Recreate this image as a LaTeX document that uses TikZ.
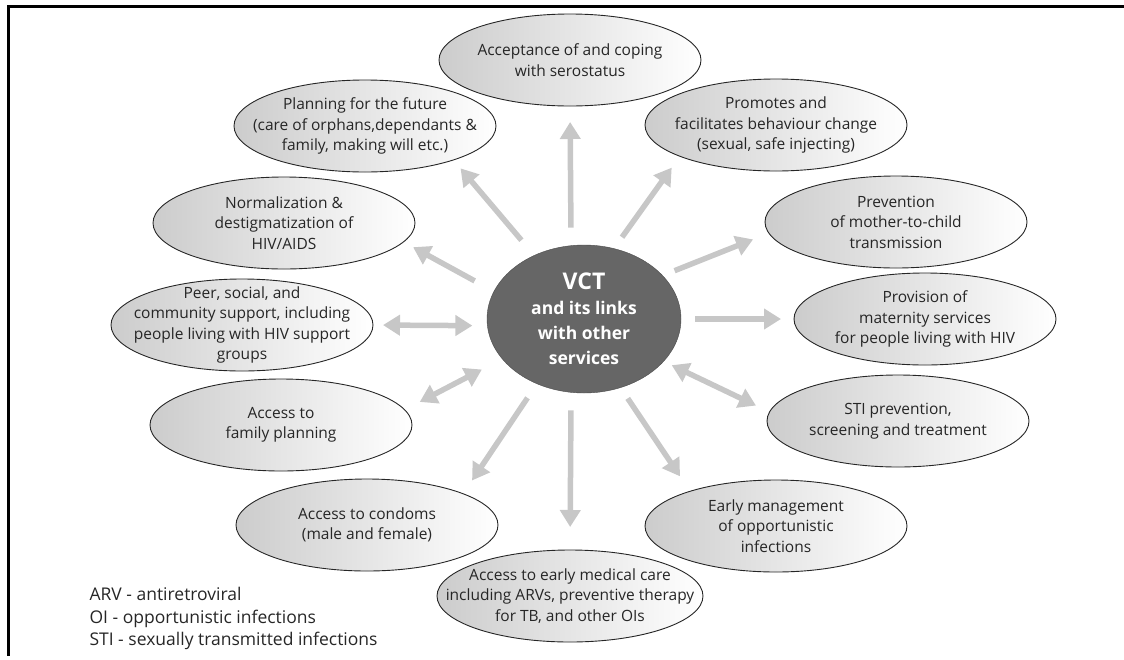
\documentclass[tikz,border=0pt]{standalone}
\usepackage{fontspec}
\setmainfont{Open Sans}
\usepackage{tikz}
\usetikzlibrary{arrows.meta,shapes.geometric}

\tikzset{
  oval/.style={ellipse,draw=black!85,line width=0.9pt,left color=black!20,right color=white,
    minimum width=262pt,minimum height=92pt,inner sep=0pt,outer sep=0pt},
  txt/.style={align=center,text=black!85,font=\fontsize{15.5}{20.5}\selectfont},
  hub/.style={ellipse,draw=black!70,fill=black!60,minimum width=194pt,minimum height=148pt,
    inner sep=0pt,outer sep=0pt},
  abbr/.style={anchor=base west,text=black!85,font=\fontsize{17.5}{22}\selectfont},
  link/.style={draw=black!22,line width=5.5pt,-{Triangle[length=17pt,width=20pt]}},
  link2/.style={link,{Triangle[length=17pt,width=20pt]}-{Triangle[length=17pt,width=20pt]}},
}

\begin{document}
\begin{tikzpicture}[x=1pt,y=-1pt]

\useasboundingbox (0,0) rectangle (1124,659);

% Frame
\draw[line width=3pt] (1124,6.5) -- (8.5,6.5) -- (8.5,656);

% Centre
\node[hub] (vct) at (584,319) {};
\node[align=center,text=white,font=\bfseries\fontsize{17.5}{25}\selectfont] (vct-t) at (vct)
  {{\fontsize{23}{25}\selectfont VCT}\\and its links\\with other\\services};

% Services round the centre
\node[oval] (accept) at (570,60) {};
\node[txt] (accept-t) at (accept) {Acceptance of and coping\\with serostatus};

\node[oval] (plan) at (365,126) {};
\node[txt] (plan-t) at (plan) {Planning for the future\\(care of orphans,dependants \&\\family, making will etc.)};

\node[oval] (promo) at (776,125) {};
\node[txt] (promo-t) at (promo) {Promotes and\\facilitates behaviour change\\(sexual, safe injecting)};

\node[oval] (norm) at (284,223) {};
\node[txt] (norm-t) at (norm) {Normalization \&\\destigmatization of\\HIV/AIDS};

\node[oval] (mtct) at (896,222) {};
\node[txt] (mtct-t) at (mtct) {Prevention\\of mother-to-child\\transmission};

\node[oval] (peer) at (242,325) {};
\node[txt] (peer-t) at (peer) {Peer, social, and\\community support, including\\people living with HIV support\\groups};

\node[oval] (prov) at (925,319) {};
\node[txt] (prov-t) at (prov) {Provision of\\maternity services\\for people living with HIV};

\node[oval] (fam) at (281,425) {};
\node[txt] (fam-t) at (fam) {Access to\\family planning};

\node[oval] (sti) at (898,421) {};
\node[txt] (sti-t) at (sti) {STI prevention,\\screening and treatment};

\node[oval] (condom) at (367,525) {};
\node[txt] (condom-t) at (condom) {Access to condoms\\(male and female)};

\node[oval] (early) at (776,526) {};
\node[txt] (early-t) at (early) {Early management\\of opportunistic\\infections};

\node[oval,minimum width=266pt] (care) at (570,596) {};
\node[txt] (care-t) at (care) {Access to early medical care\\including ARVs, preventive therapy\\for TB, and other OIs};

% Links
\draw[link,shorten <=18pt,shorten >=16pt] (vct.100) -- (accept.south);
\draw[link,shorten <=20pt,shorten >=11pt] (vct.128) -- (plan.339);
\draw[link,shorten <=14pt,shorten >=14pt] (vct.67) -- (promo.198);
\draw[link,shorten <=13pt,shorten >=17pt] (vct.29) -- (mtct.185);
\draw[link,shorten <=22pt,shorten >=11pt] (vct.163) -- (norm.351);
\draw[link2,shorten <=15pt,shorten >=10pt] (vct.184) -- (peer.east);
\draw[link,shorten <=14pt,shorten >=13pt] (vct.east) -- (prov.west);
\draw[link2,shorten <=23pt,shorten >=17pt] (vct.206) -- (fam.7);
\draw[link2,shorten <=9pt,shorten >=15pt] (vct.332) -- (sti.176);
\draw[link,shorten <=18pt,shorten >=23pt] (vct.260) -- (care.north);
\draw[link,shorten <=17pt,shorten >=16pt] (vct.234) -- (condom.18);
\draw[link,shorten <=13pt,shorten >=18pt] (vct.298) -- (early.158);

% Abbreviations
\node[abbr] (arv) at (86,600) {ARV - antiretroviral};
\node[abbr] (oi) at (86,623) {OI - opportunistic infections};
\node[abbr] (stix) at (86,645) {STI - sexually transmitted infections};

\end{tikzpicture}
\end{document}
